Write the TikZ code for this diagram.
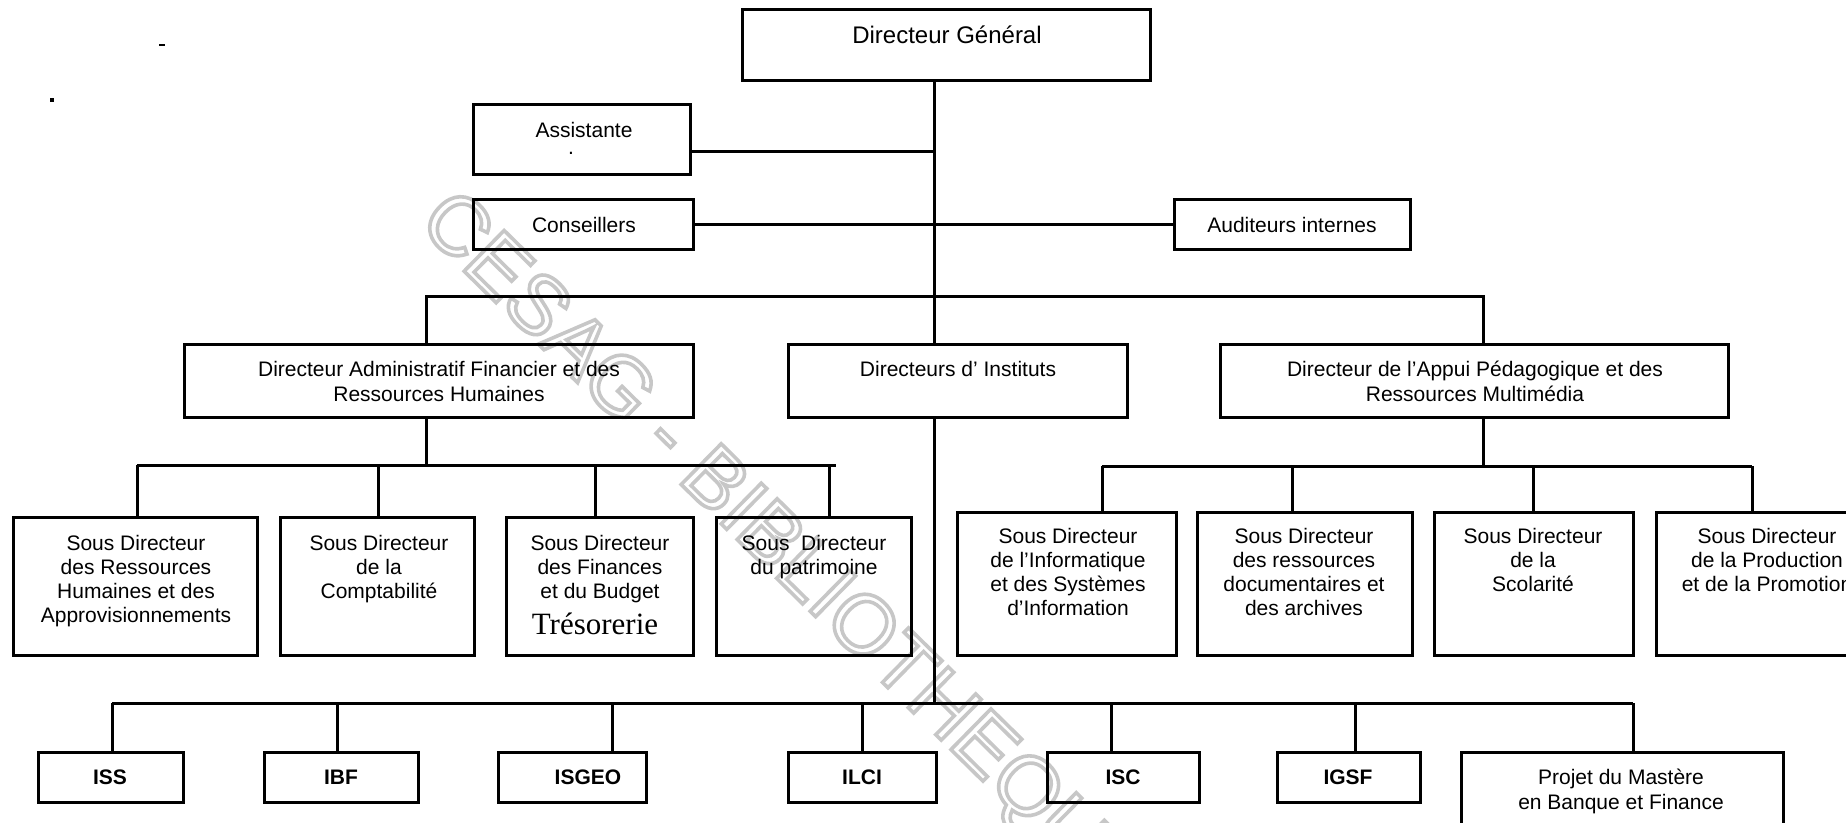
\documentclass[tikz,border=0pt]{standalone}
\usepackage{fontspec}
\setmainfont{Liberation Sans}
\newfontfamily\tnrfont{Liberation Serif}
\newcommand\ob[5]{\node[box, minimum width={(#4-#2)*0.5pt}, minimum height={(#5-#3)*0.5pt}] (#1) at ({(#2+#4)/2},{(#3+#5)/2}) {};}
\begin{document}
\begin{tikzpicture}[x=0.5pt,y=-0.5pt,
  box/.style={draw, line width=1.5pt, inner sep=0pt, outer sep=0pt},
  conn/.style={line width=1.5pt},
  one/.style={inner sep=0pt, outer sep=0pt, anchor=base, font=\fontsize{10.5}{11.5}\selectfont},
  multi/.style={inner sep=0pt, outer sep=0pt, anchor=north, align=center, font=\fontsize{10.5}{12}\selectfont},
  multiw/.style={multi, font=\fontsize{10.5}{12.5}\selectfont},
  bold/.style={one, font=\fontsize{10.5}{11.5}\selectfont\bfseries},
  wmark/.style={inner sep=0pt, outer sep=0pt, rotate=-44.5, text=black!22, font=\fontsize{41.5}{41.5}\selectfont}
]
\useasboundingbox (0,0) rectangle (1846,823);
% watermark
\node[wmark] (wm) at (780,552) {\special{pdf:literal direct 1 Tr 1.8 w}CESAG - BIBLIOTHEQUE\special{pdf:literal direct 0 Tr}};
% stray marks of the scan
\fill (159,44) rectangle (165,46);
\fill (50,98) rectangle (54,102);
% boxes
\ob{dg}{742}{10}{1150}{81}
\ob{assist}{473}{105}{690}{175}
\ob{cons}{473}{200}{693}{250}
\ob{aud}{1174}{200}{1410}{250}
\ob{daf}{184}{345}{693}{417}
\ob{inst}{788}{345}{1127}{417}
\ob{dap}{1220}{345}{1728}{417}
\ob{srh}{13}{517}{257}{655}
\ob{scpt}{280}{517}{474}{655}
\ob{sfin}{506}{517}{693}{655}
\ob{spat}{716}{517}{911}{655}
\ob{sinf}{957}{512}{1176}{655}
\ob{sdoc}{1197}{512}{1412}{655}
\ob{sscol}{1434}{512}{1633}{655}
\ob{sprod}{1656}{512}{1878}{655}
\ob{iss}{38}{752}{183}{802}
\ob{ibf}{264}{752}{418}{802}
\ob{isgeo}{498}{752}{646}{802}
\ob{ilci}{788}{752}{936}{802}
\ob{isc}{1047}{752}{1199}{802}
\ob{igsf}{1277}{752}{1420}{802}
\ob{projet}{1461}{752}{1783}{845}
% texts
\node[one, font=\fontsize{12}{13}\selectfont] (tdg) at (947,44) {Directeur Général};
\node[one] (tassist) at (584,138) {Assistante};
\node[one] (tdot) at (571,155) {.};
\node[one] (tcons) at (584,233) {Conseillers};
\node[one] (taud) at (1292,233) {Auditeurs internes};
\node[multiw] (tdaf) at (439,361) {Directeur Administratif Financier et des\\Ressources Humaines};
\node[one] (tinst) at (958,377) {Directeurs d' Instituts};
\node[multiw] (tdap) at (1475,361) {Directeur de l'Appui Pédagogique et des\\Ressources Multimédia};
\node[multi] (tsrh) at (136,535) {Sous Directeur\\des Ressources\\Humaines et des\\Approvisionnements};
\node[multi] (tscpt) at (379,535) {Sous Directeur\\de la\\Comptabilité};
\node[multi] (tsfin) at (600,535) {Sous Directeur\\des Finances\\et du Budget};
\node[one, font=\tnrfont\fontsize{15.5}{16}\selectfont] (ttres) at (595,634) {Trésorerie};
\node[multi] (tspat) at (814,535) {Sous\ \ Directeur\\du patrimoine};
\node[multi] (tsinf) at (1068,528) {Sous Directeur\\de l'Informatique\\et des Systèmes\\d'Information};
\node[multi] (tsdoc) at (1304,528) {Sous Directeur\\des ressources\\documentaires et\\des archives};
\node[multi] (tsscol) at (1533,528) {Sous Directeur\\de la\\Scolarité};
\node[multi] (tsprod) at (1767,528) {Sous Directeur\\de la Production\\et de la Promotion};
\node[bold] (tiss) at (110,784) {ISS};
\node[bold] (tibf) at (341,784) {IBF};
\node[bold] (tisgeo) at (588,784) {ISGEO};
\node[bold] (tilci) at (862,784) {ILCI};
\node[bold] (tisc) at (1123,784) {ISC};
\node[bold] (tigsf) at (1348,784) {IGSF};
\node[multiw] (tprojet) at (1621,769) {Projet du Mastère\\en Banque et Finance};
% connectors
\coordinate (sp) at (934,297);
\draw[conn] (dg.south -| sp) -- (inst.north -| sp);
\coordinate (aj) at (934,152);
\draw[conn] (assist.east |- aj) -- (aj);
\draw[conn] (cons.east) -- (aud.west);
\coordinate (b1l) at (426,297);
\coordinate (b1r) at (1483,297);
\draw[conn] (daf.north -| b1l) -- (b1l) -- (b1r) -- (dap.north -| b1r);
% DAF bus
\coordinate (b2) at (426,465);
\coordinate (b2l) at (137,465);
\coordinate (b2b) at (378,465);
\coordinate (b2c) at (595,465);
\coordinate (b2d) at (829,465);
\coordinate (b2r) at (836,465);
\draw[conn] (daf.south -| b2) -- (b2);
\draw[conn] (b2l) -- (b2r);
\draw[conn] (b2l) -- (b2l |- srh.north);
\draw[conn] (b2b) -- (b2b |- scpt.north);
\draw[conn] (b2c) -- (b2c |- sfin.north);
\draw[conn] (b2d) -- (b2d |- spat.north);
% DAP bus
\coordinate (b4) at (1483,466);
\coordinate (b4a) at (1102,466);
\coordinate (b4b) at (1292,466);
\coordinate (b4c) at (1533,466);
\coordinate (b4d) at (1752,466);
\draw[conn] (dap.south -| b4) -- (b4);
\draw[conn] (b4a) -- (b4d);
\draw[conn] (b4a) -- (b4a |- sinf.north);
\draw[conn] (b4b) -- (b4b |- sdoc.north);
\draw[conn] (b4c) -- (b4c |- sscol.north);
\draw[conn] (b4d) -- (b4d |- sprod.north);
% institutes bus
\coordinate (b3) at (934,703);
\coordinate (k1) at (112,703);
\coordinate (k2) at (337,703);
\coordinate (k3) at (612,703);
\coordinate (k4) at (862,703);
\coordinate (k5) at (1111,703);
\coordinate (k6) at (1355,703);
\coordinate (k7) at (1633,703);
\draw[conn] (inst.south -| b3) -- (b3);
\draw[conn] (k1) -- (k7);
\draw[conn] (k1) -- (k1 |- iss.north);
\draw[conn] (k2) -- (k2 |- ibf.north);
\draw[conn] (k3) -- (k3 |- isgeo.north);
\draw[conn] (k4) -- (k4 |- ilci.north);
\draw[conn] (k5) -- (k5 |- isc.north);
\draw[conn] (k6) -- (k6 |- igsf.north);
\draw[conn] (k7) -- (k7 |- projet.north);
\end{tikzpicture}
\end{document}
